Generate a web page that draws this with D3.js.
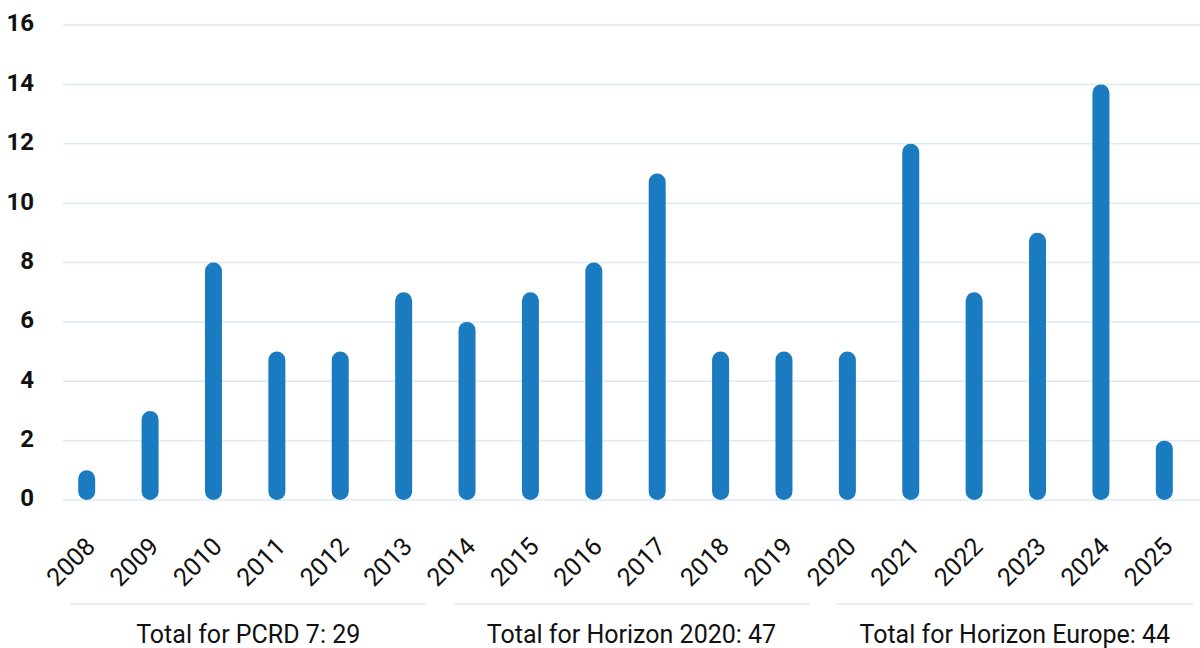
<!DOCTYPE html>
<html>
<head>
<meta charset="utf-8">
<script src="https://cdn.jsdelivr.net/npm/d3@7"></script>
<style>
  body { margin: 0; background: #fff; }
  svg { display: block; font-family: Roboto, "Open Sans", sans-serif; }
</style>
</head>
<body>
<div id="chart"></div>
<script>
// values per year
var years = ["2008","2009","2010","2011","2012","2013","2014","2015","2016","2017","2018","2019","2020","2021","2022","2023","2024","2025"];
var counts = [1, 3, 8, 5, 5, 7, 6, 7, 8, 11, 5, 5, 5, 12, 7, 9, 14, 2];
var yTicks = [0, 2, 4, 6, 8, 10, 12, 14, 16];
var groupLabels = ["Total for PCRD 7: 29", "Total for Horizon 2020: 47", "Total for Horizon Europe: 44"];

var width = 1200,
    height = 648;

var svg = d3.select("#chart")
  .append("svg")
  .attr("width", width)
  .attr("height", height);

var x = d3.scaleBand().domain(years).range([55, 1196]);
var y = d3.scaleLinear().domain([0, 16]).range([500, 25]);

// grid lines
svg.append("g")
  .selectAll("line")
  .data(yTicks)
  .enter().append("line")
  .attr("x1", 63)
  .attr("x2", width)
  .attr("y1", function(d) { return y(d); })
  .attr("y2", function(d) { return y(d); })
  .attr("stroke", "#dce9f7")
  .attr("stroke-width", 1.5);

// y labels
svg.append("g")
  .selectAll("text")
  .data(yTicks)
  .enter().append("text")
  .attr("x", 34)
  .attr("y", function(d) { return y(d) - 2; })
  .attr("dy", "0.35em")
  .attr("text-anchor", "end")
  .attr("font-size", 24)
  .attr("font-weight", 700)
  .attr("fill", "#111")
  .text(function(d) { return d; });

var bw = 17;

// bars with rounded ends
svg.append("g")
  .selectAll("rect")
  .data(counts)
  .enter().append("rect")
  .attr("x", function(d, i) { return x(years[i]) + x.bandwidth() / 2 - bw / 2; })
  .attr("y", function(d) { return y(d); })
  .attr("width", bw)
  .attr("height", function(d) { return y(0) - y(d); })
  .attr("rx", bw / 2)
  .attr("fill", "#1b7bc0");

// year labels, rotated
svg.append("g")
  .selectAll("text")
  .data(years)
  .enter().append("text")
  .attr("transform", function(d) {
    return "translate(" + (x(d) + x.bandwidth() / 2 + 10) + ",548) rotate(-45)";
  })
  .attr("text-anchor", "end")
  .attr("font-size", 25)
  .attr("fill", "#111")
  .text(function(d) { return d; });

// programme totals
var g = d3.scaleBand().domain(groupLabels).range([70, 1193]).paddingInner(0.07);

svg.append("g")
  .selectAll("line")
  .data(groupLabels)
  .enter().append("line")
  .attr("x1", function(d) { return g(d); })
  .attr("x2", function(d) { return g(d) + g.bandwidth(); })
  .attr("y1", 604)
  .attr("y2", 604)
  .attr("stroke", "#dce9f7")
  .attr("stroke-width", 1.5);

svg.append("g")
  .selectAll("text")
  .data(groupLabels)
  .enter().append("text")
  .attr("x", function(d) { return g(d) + g.bandwidth() / 2; })
  .attr("y", 643)
  .attr("text-anchor", "middle")
  .attr("font-size", 25)
  .attr("fill", "#111")
  .text(function(d) { return d; });
</script>
</body>
</html>
